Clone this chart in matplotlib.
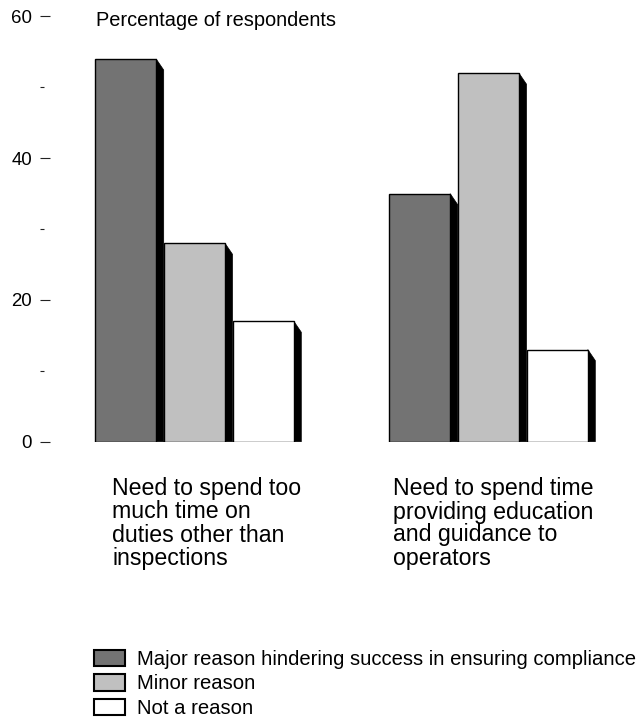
import matplotlib
matplotlib.use("Agg")
import matplotlib.pyplot as plt
from matplotlib.patches import Polygon, Patch
import numpy as np

plt.rcParams['font.family'] = ['Liberation Sans', 'DejaVu Sans']

categories = ["Need to spend too\nmuch time on\nduties other than\ninspections",
              "Need to spend time\nproviding education\nand guidance to\noperators"]
series_names = ["Major reason hindering success in ensuring compliance",
                "Minor reason",
                "Not a reason"]
major = [54, 35]
minor = [28, 52]
not_reason = [17, 13]
values = [major, minor, not_reason]
colors = ["#737373", "#c0c0c0", "#ffffff"]
y_major_ticks = [0, 20, 40, 60]
y_minor_ticks = [10, 30, 50]
y_title = "Percentage of respondents"

W, H = 644, 728
fig = plt.figure(figsize=(W / 100, H / 100), dpi=100)
ax_left_px, ax_bottom_px, ax_top_px = 40.5, 441.7, 16.5
ax = fig.add_axes([ax_left_px / W, (H - ax_bottom_px) / H,
                   (W - ax_left_px) / W, (ax_bottom_px - ax_top_px) / H])

group_px = 294.0
ax.set_xlim(-(194.5 - ax_left_px) / group_px, 1 + (W - 488.5) / group_px)
ax.set_ylim(0, 60)

bar_w = 61 / group_px
pitch = 68.8 / group_px
x = np.arange(len(categories))

# shadow offsets in data units
p0 = ax.transData.transform((0, 0))
p1 = ax.transData.transform((1, 1))
px_x = p1[0] - p0[0]
px_y = p1[1] - p0[1]
dx = 7.5 / px_x
dy = 11 / px_y

for i, (vals, col) in enumerate(zip(values, colors)):
    xs = x + (i - 1) * pitch
    ax.bar(xs, vals, width=bar_w, color=col, edgecolor='black',
           linewidth=1.0, zorder=3)
    for xc, v in zip(xs, vals):
        xr = xc + bar_w / 2
        poly = Polygon([(xr, 0), (xr, v), (xr + dx, v - dy), (xr + dx, 0)],
                       closed=True, facecolor='black', edgecolor='black',
                       linewidth=0.5, zorder=2)
        ax.add_patch(poly)

for s in ax.spines.values():
    s.set_visible(False)
ax.set_xticks([])
ax.set_yticks(y_major_ticks)
ax.set_yticks(y_minor_ticks, minor=True)
ax.tick_params(axis='y', which='major', direction='in', length=7.5, width=0.8,
               pad=6.2, labelsize=13.4, color='#222222')
ax.tick_params(axis='y', which='minor', direction='in', length=3.0, width=0.8,
               color='#222222')

fig.text(96 / W, (H - 26) / H, y_title, fontsize=14.4, ha='left', va='baseline')

label_x_px = [112, 393]
for lx, cat in zip(label_x_px, categories):
    fig.text(lx / W, (H - 477.5) / H, cat, fontsize=16.7, ha='left', va='top',
             linespacing=1.0)

handles = [Patch(facecolor=c, edgecolor='black', linewidth=1.5) for c in colors]
fig.legend(handles, series_names, loc='upper left',
           bbox_to_anchor=(94 / W, (H - 650) / H), frameon=False,
           fontsize=14.6, handlelength=1.54, handleheight=0.85,
           handletextpad=0.6, labelspacing=0.26, borderpad=0, borderaxespad=0)

fig.savefig("out.png", dpi=100)
